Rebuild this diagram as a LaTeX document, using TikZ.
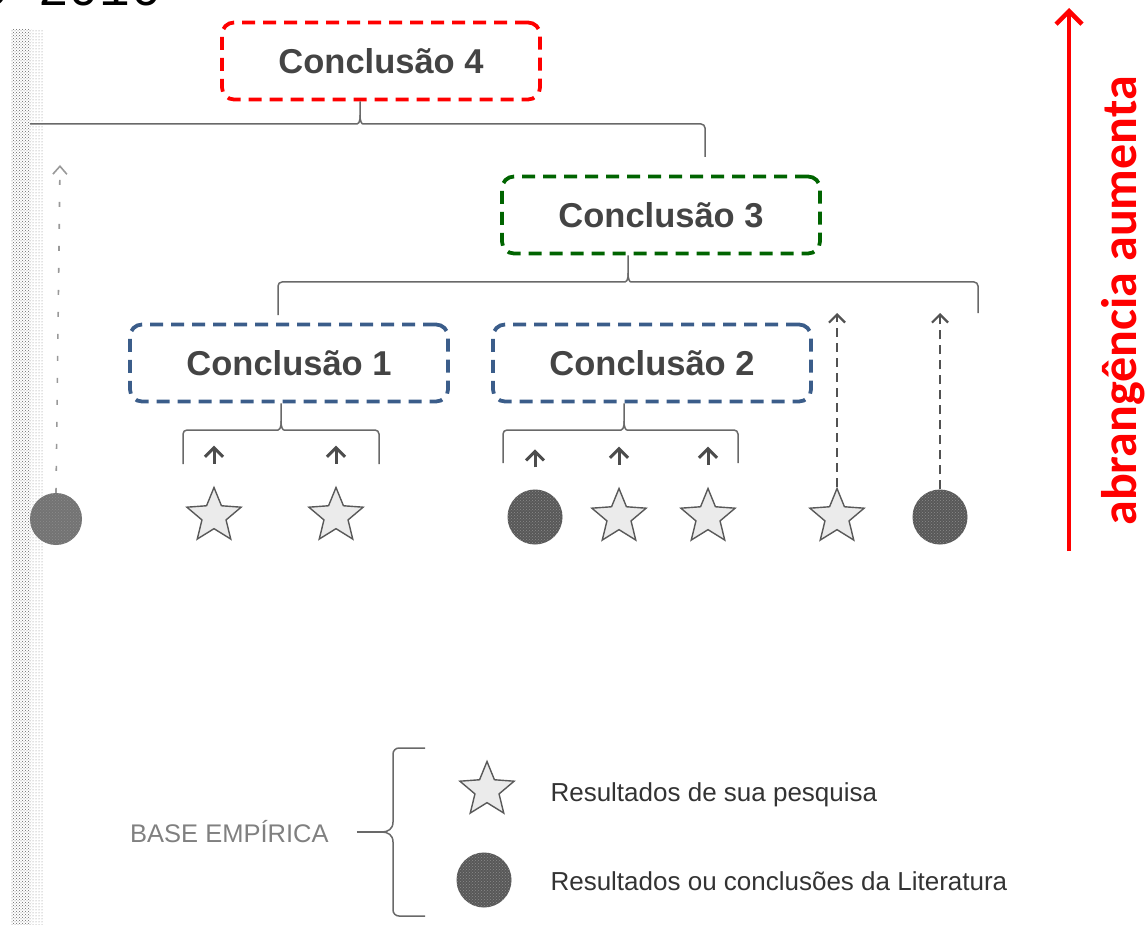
\documentclass[tikz,border=0pt]{standalone}
\usepackage{fontspec}
\setmainfont{Liberation Sans}
\newfontfamily\calib{Carlito}
\newfontfamily\monof{Liberation Mono}
\usetikzlibrary{shapes.geometric,arrows.meta,patterns,calc}
\definecolor{cred}{RGB}{255,0,0}
\definecolor{cgreen}{RGB}{0,100,0}
\definecolor{cblue}{RGB}{59,93,138}
\definecolor{txtgray}{RGB}{68,68,68}
\definecolor{linegray}{RGB}{105,105,105}
\definecolor{ballfill}{RGB}{88,88,88}
\begin{document}
\begin{tikzpicture}[x=1pt,y=-1pt,
  concl/.style={draw=#1, dash pattern=on 13pt off 8pt, line width=3.8pt,
    rounded corners=12pt, minimum width=318pt, minimum height=77pt, inner sep=0pt,
    text=txtgray, font=\fontsize{34.5}{40}\selectfont\bfseries},
  brc/.style={draw=linegray, line width=1.5pt, rounded corners=4pt},
  res/.style={star, star points=5, star point ratio=2.25, minimum size=57pt, inner sep=0pt,
    draw=black!65, line width=1.4pt, fill=black!8},
  lit/.style={circle, minimum size=#1, inner sep=0pt, fill=ballfill,
    postaction={pattern=crosshatch dots, pattern color=black!45}},
  lit/.default=55pt,
  sarr/.style={draw=black!70, line width=3pt, -{Straight Barb[length=9pt,width=18pt]}},
  darr/.style={draw=black!68, line width=2.2pt, dash pattern=on 9pt off 6pt,
    -{Straight Barb[length=8pt,width=16pt]}},
  dotarr/.style={draw=black!40, line width=1.6pt, dash pattern=on 5pt off 17pt,
    -{Straight Barb[length=8pt,width=14pt]}},
  redarr/.style={draw=cred, line width=4.5pt, -{Straight Barb[length=13pt,width=26pt]}},
  legtxt/.style={anchor=west, text=black!80, font=\fontsize{26}{30}\selectfont},
]
\useasboundingbox (0,0) rectangle (1148,925);

% cut-off header text
\node[anchor=base east, inner sep=0pt, font=\monof\fontsize{51}{51}\selectfont] (hdr) at (161,6) {5 2016};

% stippled left band
\fill[pattern=crosshatch dots, pattern color=black!60] (11,30) rectangle (31,925);
\fill[pattern=dots, pattern color=black!50] (31,30) rectangle (44,925);

% conclusion boxes
\node[concl=cred]   (c4) at (381,61)  {Conclusão 4};
\node[concl=cgreen] (c3) at (661,215) {Conclusão 3};
\node[concl=cblue]  (c1) at (289,363) {Conclusão 1};
\node[concl=cblue]  (c2) at (652,363) {Conclusão 2};

% empirical base
\node[lit=52pt, fill=black!55] (l0) at (56,519) {};
\node[res] (s1) at (214,516) {};
\node[res] (s2) at (336,516) {};
\node[lit] (l1) at (535,517) {};
\node[res] (s3) at (619,517) {};
\node[res] (s4) at (708,517) {};
\node[res] (s5) at (837,517) {};
\node[lit] (l2) at (940,517) {};

% brace under Conclusão 4
\coordinate (k4) at (360,124);
\draw[brc] (30,124) -- (353,124) .. controls (358,124) and (360,122) .. (360,115) -- (k4 |- c4.south);
\draw[brc] (360,115) .. controls (360,122) and (362,124) .. (367,124) -- (705,124) -- (705,157);
% brace under Conclusão 3
\coordinate (k3) at (628,282);
\draw[brc] (278,315) -- (278,282) -- (621,282) .. controls (626,282) and (628,280) .. (628,273) -- (k3 |- c3.south);
\draw[brc] (628,273) .. controls (628,280) and (630,282) .. (635,282) -- (978,282) -- (978,313);
% brace under Conclusão 1
\coordinate (k1) at (281,430);
\draw[brc] (183,464) -- (183,430) -- (274,430) .. controls (279,430) and (281,428) .. (281,421) -- (k1 |- c1.south);
\draw[brc] (281,421) .. controls (281,428) and (283,430) .. (288,430) -- (379,430) -- (379,464);
% brace under Conclusão 2
\coordinate (k2) at (624,430);
\draw[brc] (503,463) -- (503,430) -- (617,430) .. controls (622,430) and (624,428) .. (624,421) -- (k2 |- c2.south);
\draw[brc] (624,421) .. controls (624,428) and (626,430) .. (631,430) -- (738,430) -- (738,463);

% small solid arrows
\foreach \n in {s1,s2,l1,s3,s4}
  \draw[sarr] ([yshift=22pt]\n.north) -- ([yshift=40pt]\n.north);

% long dashed arrows
\coordinate (t5) at (837,313);
\coordinate (t6) at (940,313);
\draw[darr] (s5.north) -- (t5);
\draw[darr] (l2.north) -- (t6);

% faint dotted arrow on the left
\coordinate (t0) at (60,165);
\draw[dotarr] (l0.north) -- (t0);

% red scope arrow
\coordinate (rb) at (1069,551);
\coordinate (rt) at (1069,8);
\draw[redarr] (rb) -- (rt);
\node[rotate=90, anchor=base, inner sep=0pt, text=cred,
      font=\calib\bfseries\fontsize{50}{52}\selectfont] (scope) at (1136,301) {abrangência aumenta};

% legend
\node[anchor=west, inner sep=0pt, text=black!50, font=\fontsize{25.5}{30}\selectfont] (base) at (130,832) {BASE EMPÍRICA};
\coordinate (bt) at (382,832);
\draw[brc, rounded corners=6pt] (425,748) -- (393,748) -- (393,822);
\draw[brc] (393,822) .. controls (393,829) and (388,832) .. (bt);
\draw[brc] (bt) .. controls (388,832) and (393,835) .. (393,842);
\draw[brc, rounded corners=6pt] (393,842) -- (393,916) -- (425,916);
\draw[brc] ([xshift=28pt]base.east) -- (bt);

\node[res] (ls) at (487,790) {};
\node[lit] (ll) at (484,880) {};
\node[legtxt] (lt1) at (547,795) {Resultados de sua pesquisa};
\node[legtxt] (lt2) at (547,881) {Resultados ou conclusões da Literatura};
\end{tikzpicture}
\end{document}
